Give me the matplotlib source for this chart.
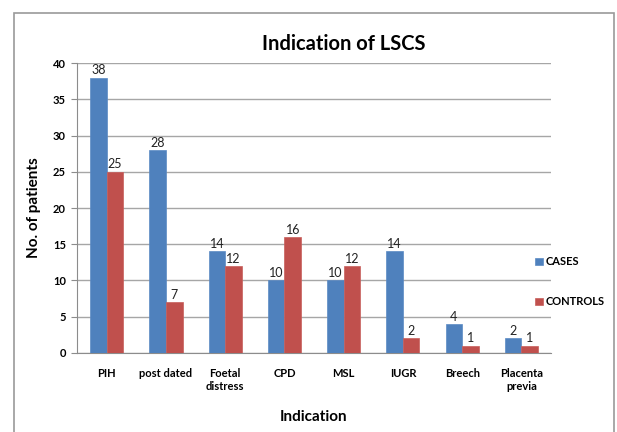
import matplotlib.pyplot as plt
import numpy as np
from matplotlib.patches import Rectangle

from matplotlib import rcParams
rcParams['font.family'] = ['Lato', 'DejaVu Sans']
rcParams['axes.edgecolor'] = '#8c8c8c'

# data
indications = ['PIH', 'post dated', 'Foetal\ndistress', 'CPD', 'MSL', 'IUGR', 'Breech', 'Placenta\nprevia']
cases = [38, 28, 14, 10, 10, 14, 4, 2]
controls = [25, 7, 12, 16, 12, 2, 1, 1]
yticks = [0, 5, 10, 15, 20, 25, 30, 35, 40]

blue = '#4f81bd'
red = '#c0504d'

fig = plt.figure(figsize=(6.17, 4.32), dpi=100)
ax = fig.add_axes([0.125, 0.183, 0.768, 0.671])

x = np.arange(len(indications))
w = 0.28
b1 = ax.bar(x - w/2, cases, w, color=blue, edgecolor='#5b8ac4', linewidth=0.5, label='CASES', zorder=3)
b2 = ax.bar(x + w/2, controls, w, color=red, edgecolor='#c85e5b', linewidth=0.5, label='CONTROLS', zorder=3)

for bars, vals in [(b1, cases), (b2, controls)]:
	for r, v in zip(bars, vals):
		ax.annotate(str(v), (r.get_x() + r.get_width()/2, v), xytext=(0, 1),
			textcoords='offset points', ha='center', va='bottom', fontsize=9, color='#222222')

ax.set_xlim(-0.5, len(indications) - 0.5)
ax.set_ylim(0, 40)
ax.set_yticks(yticks)
ax.yaxis.grid(True, color='#a6a6a6', linewidth=1)
ax.set_axisbelow(True)
for s in ['top', 'right']:
	ax.spines[s].set_visible(False)
ax.spines['left'].set_color('#8c8c8c')
ax.spines['bottom'].set_color('#8c8c8c')

ax.set_xticks(x)
ax.set_xticklabels(indications, fontsize=8, fontweight='bold', va='top', linespacing=1.2)
ax.tick_params(axis='x', length=0, pad=11)
ax.tick_params(axis='y', length=4, color='#8c8c8c', labelsize=8, pad=4)
for t in ax.get_yticklabels():
	t.set_fontweight('bold')

ax.set_ylabel('No. of patients', fontsize=11, fontweight='bold', labelpad=9)
ax.set_xlabel('Indication', fontsize=11, fontweight='bold', labelpad=13)
fig.text(0.557, 0.898, 'Indication of LSCS', ha='center', va='center', fontsize=14.5, fontweight='bold')

ax.legend(loc='center left', bbox_to_anchor=(0.945, 0.245), frameon=False,
	handlelength=0.7, handleheight=0.7, handletextpad=0.3, labelspacing=2.6,
	prop={'size': 8, 'weight': 'bold'})

# outer frame
fig.patches.append(Rectangle((14/617, -0.01), (614-14)/617, (432-13)/432 + 0.01,
	transform=fig.transFigure, fill=False, edgecolor='#9a9a9a', linewidth=1.2))

plt.savefig('out.png', dpi=100)
